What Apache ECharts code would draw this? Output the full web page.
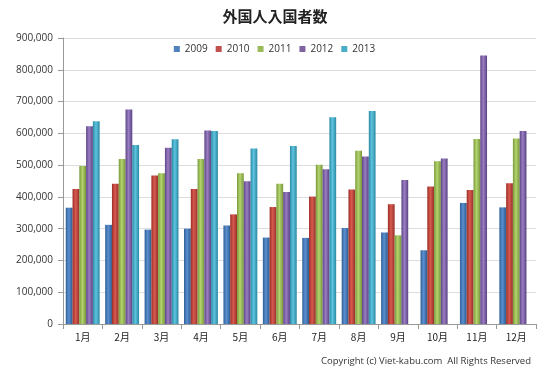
<!DOCTYPE html>
<html><head><meta charset="utf-8">
<script src="https://cdn.jsdelivr.net/npm/echarts@6/dist/echarts.min.js"></script>
<style>html,body{margin:0;padding:0;background:#fff}#c{width:549px;height:370px}</style>
</head><body><div id="c"></div>
<script>
const categories = ['1月','2月','3月','4月','5月','6月','7月','8月','9月','10月','11月','12月'];
const years = ['2009','2010','2011','2012','2013'];
const v2009 = [366000,312000,297000,300000,310000,272000,271000,302000,288000,232000,381000,367000];
const v2010 = [425000,441000,467000,425000,345000,368000,401000,423000,377000,433000,422000,443000];
const v2011 = [497000,519000,474000,519000,474000,441000,501000,545000,279000,512000,582000,584000];
const v2012 = [622000,675000,555000,609000,449000,415000,487000,527000,453000,521000,845000,607000];
const v2013 = [638000,563000,581000,607000,552000,560000,651000,670000,null,null,null,null];
const yTicks = [0,100000,200000,300000,400000,500000,600000,700000,800000,900000];

const seriesData = [v2009,v2010,v2011,v2012,v2013];
const colors = [['#2f5f96','#5b8fd0','#2c5a8e'],['#9a2e27','#d85a4f','#96302a'],['#7a9a3a','#b3d46e','#76963a'],['#5d4585','#9a7dc2','#5a4282'],['#2a8aa6','#5fc4df','#2a88a2']];
const legendColors = ['#4F81BD','#C0504D','#9BBB59','#8064A2','#4BACC6'];

const chart = echarts.init(document.getElementById('c'));
chart.setOption({
  backgroundColor:'#fff',
  animation:false,
  title:{text:'外国人入国者数',left:270,top:4,textAlign:'center',textStyle:{fontFamily:'Noto Sans CJK JP',fontSize:15,fontWeight:'bold',color:'#222'}},
  legend:{top:39,left:'center',itemWidth:6,itemHeight:6,itemGap:8,icon:'rect',
    textStyle:{fontFamily:'Open Sans',fontSize:10,color:'#333'},
    data:years.map((y,i)=>({name:y,itemStyle:{color:legendColors[i]}}))},
  grid:{left:63,right:13,top:38,bottom:46},
  graphic:[{type:'text',right:18,bottom:4,style:{text:'Copyright (c) Viet-kabu.com  All Rights Reserved',font:'9.5px "Open Sans"',fill:'#333'}}],
  xAxis:{type:'category',data:categories,
    axisLine:{lineStyle:{color:'#999'}},axisTick:{show:true,lineStyle:{color:'#999'}},
    axisLabel:{fontFamily:'Noto Sans CJK JP',fontSize:10,color:'#222',margin:8}},
  yAxis:{type:'value',min:0,max:900000,interval:100000,
    axisLine:{show:true,lineStyle:{color:'#999'}},axisTick:{show:true,lineStyle:{color:'#999'}},
    splitLine:{lineStyle:{color:'#ddd'}},
    axisLabel:{fontFamily:'Open Sans',fontSize:10,color:'#333',margin:10,
      formatter:v=>v.toLocaleString('en-US')}},
  series:seriesData.map((d,i)=>({
    name:years[i],type:'bar',data:d,barGap:'0%',barCategoryGap:'14%',
    itemStyle:{color:new echarts.graphic.LinearGradient(0,0,1,0,[{offset:0,color:colors[i][0]},{offset:0.45,color:colors[i][1]},{offset:1,color:colors[i][2]}])}
  }))
});
</script></body></html>
